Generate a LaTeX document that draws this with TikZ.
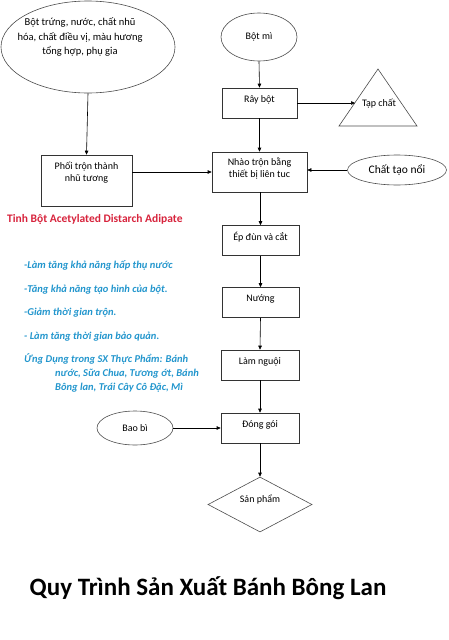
\documentclass[tikz,border=0pt]{standalone}
\usepackage{fontspec}
\setmainfont{Carlito}
\usepackage{xcolor}
\usepackage{tikz}
\usetikzlibrary{shapes.geometric,arrows.meta,positioning}
\definecolor{noteblue}{RGB}{35,150,205}
\definecolor{notered}{RGB}{215,35,60}

\begin{document}
\begin{tikzpicture}[x=1pt, y=-1pt,
  box/.style={draw=black!80, line width=0.6pt, text centered, align=center,
    minimum width=77pt, minimum height=30pt, inner sep=1pt, text depth=8pt,
    font=\fontsize{10}{12}\selectfont},
  oval/.style={draw=black!70, line width=0.6pt, ellipse, inner sep=0pt,
    font=\fontsize{10}{12}\selectfont},
  note/.style={anchor=west, inner sep=0pt, text=noteblue, align=left,
    font=\fontsize{10.5}{14}\selectfont\bfseries\itshape},
  arr/.style={-{Triangle[length=4pt, width=3.5pt]}, line width=0.6pt}
]
\useasboundingbox (0,0) rectangle (448,640);
% Inputs
\node[oval, minimum width=174pt, minimum height=92pt] (ING) at (88,47) {};
\node[align=center, font=\fontsize{10.5}{14.5}\selectfont] (INGt) at (80,37)
  {Bột trứng, nước, chất nhũ\\hóa, chất điều vị, màu hương\\tổng hợp, phụ gia};
\node[oval, minimum width=76pt, minimum height=48pt] (BM) at (259,37) {Bột mì};
\node[oval, minimum width=99pt, minimum height=30pt,
  font=\fontsize{11.5}{13}\selectfont] (CT) at (397,170) {Chất tạo nổi};
\node[oval, minimum width=76pt, minimum height=34pt] (BB) at (135,428) {Bao bì};
% Main line
\node[box, minimum width=75pt] (RB) at (259.5,103) {Rây bột};
\node[box, minimum width=95pt, minimum height=40pt] (NT) at (259.5,172)
  {Nhào trộn bằng\\thiết bị liên tuc};
\node[box, minimum width=91pt, minimum height=51pt, text depth=18pt] (PT)
  at (86.5,180.5) {Phối trộn thành\\nhũ tương};
\node[box] (ED) at (260.5,240.5) {Ép đùn và cắt};
\node[box] (NU) at (260.5,302.5) {Nướng};
\node[box, minimum width=78pt] (LN) at (260,365) {Làm nguội};
\node[box, minimum width=78pt] (DG) at (260,428) {Đóng gói};
\node[draw=black!70, line width=0.6pt, diamond, aspect=2, minimum width=104pt,
  minimum height=55pt, inner sep=0pt, text depth=12pt,
  font=\fontsize{10}{12}\selectfont] (SP) at (260,504.5) {Sản phẩm};
% Waste
\draw[black!70, line width=0.6pt] (339,126) -- (378,69) -- (417,126) -- cycle;
\node[font=\fontsize{10}{12}\selectfont] (TC) at (379,104) {Tạp chất};
\coordinate (TCin) at (355,103);
% Arrows
\draw[arr] (BM.south) -- (RB.north);
\draw[arr] (RB.east) -- (TCin);
\draw[arr] (RB.south) -- (NT.north);
\draw[arr] (ING.south) -- (PT.north);
\draw[arr] (PT.east |- NT.west) -- (NT.west);
\draw[arr] (CT.west) -- (CT.west -| NT.east);
\draw[arr] (NT.south -| ED.north) -- (ED.north);
\draw[arr] (ED.south) -- (NU.north);
\draw[arr] (NU.south) -- (LN.north);
\draw[arr] (LN.south) -- (DG.north);
\draw[arr] (BB.east) -- (DG.west);
\draw[arr] (DG.south) -- (SP.north);
% Notes
\node[anchor=west, inner sep=0pt, text=notered,
  font=\fontsize{11.5}{13}\selectfont\bfseries] (TB) at (7,219)
  {Tinh Bột Acetylated Distarch Adipate};
\node[note] (N1) at (24,265) {-Làm tăng khả năng hấp thụ nước};
\node[note] (N2) at (24,290) {-Tăng khả năng tạo hình của bột.};
\node[note] (N3) at (24,313) {-Giảm thời gian trộn.};
\node[note] (N4) at (24,337) {- Làm tăng thời gian bảo quản.};
\node[note, anchor=north west] (N5) at (24,353)
  {Ứng Dụng trong SX Thực Phẩm: Bánh\\
   \hspace*{31pt}nước, Sữa Chua, Tương ớt, Bánh\\
   \hspace*{31pt}Bông lan, Trái Cây Cô Đặc, Mì};
% Title
\node[font=\fontsize{25}{28}\selectfont\bfseries] (TT) at (208,588)
  {Quy Trình Sản Xuất Bánh Bông Lan};
\end{tikzpicture}
\end{document}
